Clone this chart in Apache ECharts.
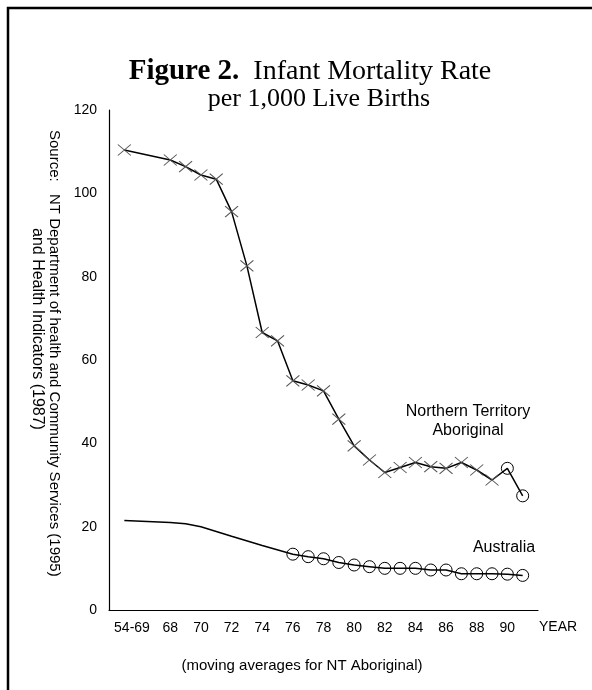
<!DOCTYPE html>
<html>
<head>
<meta charset="utf-8">
<script src="https://cdn.jsdelivr.net/npm/echarts@6/dist/echarts.min.js"></script>
<style>
  html, body { margin: 0; padding: 0; background: #fff; }
  #chart { width: 592px; height: 690px; }
</style>
</head>
<body>
<div id="chart"></div>
<script>
// NT Aboriginal: moving averages, first point is the 54-69 average
const ntYears = [65, 68, 69, 70, 71, 72, 73, 74, 75, 76, 77, 78, 79, 80, 81, 82, 83, 84, 85, 86, 87, 88, 89, 90, 91];
const ntRates = [110.4, 108.0, 106.4, 104.4, 103.4, 95.6, 82.6, 66.6, 64.6, 55.0, 54.0, 52.6, 45.8, 39.4, 36.0, 33.0, 34.2, 35.4, 34.4, 34.0, 35.4, 33.6, 31.2, 34.0, 27.4];
// years where NT is drawn with circles instead of crosses
const ntCircleYears = [90, 91];

// Australia: plain line until 76, then circles
const ausYears = [65, 68, 69, 70, 72, 74, 76, 77, 78, 79, 80, 81, 82, 83, 84, 85, 86, 87, 88, 89, 90, 91];
const ausRates = [21.5, 21.0, 20.7, 20.0, 17.7, 15.5, 13.4, 12.8, 12.3, 11.4, 10.8, 10.4, 10.0, 10.0, 10.0, 9.6, 9.6, 8.7, 8.7, 8.7, 8.6, 8.3];
const ausMarkFrom = 76;

const tickLabels = ['54-69', '68', '70', '72', '74', '76', '78', '80', '82', '84', '86', '88', '90'];
const yTicks = [0, 20, 40, 60, 80, 100, 120];

const crossPath = 'path://M0,0L12,10M0,10L12,0';
const circleStyle = { color: 'transparent', borderColor: '#000', borderWidth: 1 };

const chart = echarts.init(document.getElementById('chart'));

const ntData = ntYears.map((y, i) => {
  const circ = ntCircleYears.includes(y);
  return {
    value: [y, ntRates[i]],
    symbol: circ ? 'circle' : crossPath,
    symbolSize: circ ? 12 : [13, 11],
    itemStyle: circ ? circleStyle : { color: 'none', borderColor: '#555', borderWidth: 1 }
  };
});

const ausData = ausYears.map((y, i) => ({
  value: [y, ausRates[i]],
  symbol: y >= ausMarkFrom ? 'circle' : 'none'
}));

const serifFont = '"Liberation Serif", "Times New Roman", serif';
const sansFont = '"Liberation Sans", Arial, sans-serif';

chart.setOption({
  animation: false,
  backgroundColor: '#fff',
  title: [
    {
      text: '{b|Figure 2.}  Infant Mortality Rate',
      left: 305, top: 52, textAlign: 'center',
      textStyle: {
        fontFamily: serifFont, fontSize: 28, fontWeight: 'normal', color: '#000',
        rich: { b: { fontFamily: serifFont, fontSize: 29, fontWeight: 'bold', color: '#000' } }
      }
    },
    {
      text: 'per 1,000 Live Births',
      left: 314, top: 81, textAlign: 'center',
      textStyle: { fontFamily: serifFont, fontSize: 26, fontWeight: 'normal', color: '#000' }
    },
    {
      text: '(moving averages for NT Aboriginal)',
      left: 297, top: 653, textAlign: 'center',
      textStyle: { fontFamily: sansFont, fontSize: 15, fontWeight: 'normal', color: '#000' }
    }
  ],
  grid: { left: 109, right: 54, top: 110, bottom: 80 },
  xAxis: {
    type: 'value',
    min: 64, max: 92,
    name: 'YEAR',
    nameLocation: 'end',
    nameGap: 1,
    nameTextStyle: { fontFamily: sansFont, fontSize: 14, color: '#000', verticalAlign: 'top', padding: [10, 0, 0, 0] },
    axisLine: { lineStyle: { color: '#000', width: 1.2 } },
    axisTick: { show: false },
    splitLine: { show: false },
    axisLabel: {
      customValues: tickLabels.map(t => t.includes('-') ? 65.5 : +t),
      formatter: v => v === 65.5 ? tickLabels[0] : String(v),
      fontFamily: sansFont, fontSize: 14, color: '#000', margin: 11
    }
  },
  yAxis: {
    type: 'value',
    min: 0, max: 120, interval: 20,
    axisLine: { show: true, lineStyle: { color: '#000', width: 1.2 } },
    axisTick: { show: false },
    splitLine: { show: false },
    axisLabel: {
      customValues: yTicks,
      fontFamily: sansFont, fontSize: 14, color: '#000', margin: 12
    }
  },
  series: [
    {
      name: 'Northern Territory Aboriginal',
      type: 'line',
      data: ntData,
      lineStyle: { color: '#000', width: 1.5 },
      z: 3
    },
    {
      name: 'Australia',
      type: 'line',
      data: ausData,
      symbolSize: 12,
      itemStyle: circleStyle,
      lineStyle: { color: '#000', width: 1.5 },
      z: 3
    }
  ],
  graphic: [
    { type: 'rect', shape: { x: 8, y: 8, width: 700, height: 800 }, style: { fill: 'none', stroke: '#000', lineWidth: 2.5 }, z: 0 },
    { type: 'text', x: 468, y: 412, style: { text: 'Northern Territory', font: '16px ' + sansFont, fill: '#000', align: 'center', verticalAlign: 'middle' } },
    { type: 'text', x: 468, y: 431, style: { text: 'Aboriginal', font: '16px ' + sansFont, fill: '#000', align: 'center', verticalAlign: 'middle' } },
    { type: 'text', x: 504, y: 548, style: { text: 'Australia', font: '16px ' + sansFont, fill: '#000', align: 'center', verticalAlign: 'middle' } },
    { type: 'text', x: 54, y: 130, rotation: -Math.PI / 2, style: { text: 'Source:', font: '15px ' + sansFont, fill: '#000', align: 'left', verticalAlign: 'middle' } },
    { type: 'text', x: 54, y: 194, rotation: -Math.PI / 2, style: { text: 'NT Department of health and Community Services (1995)', font: '15px ' + sansFont, fill: '#000', align: 'left', verticalAlign: 'middle' } },
    { type: 'text', x: 37, y: 228, rotation: -Math.PI / 2, style: { text: 'and Health Indicators (1987)', font: '16px ' + sansFont, fill: '#000', align: 'left', verticalAlign: 'middle' } }
  ]
});
</script>
</body>
</html>
